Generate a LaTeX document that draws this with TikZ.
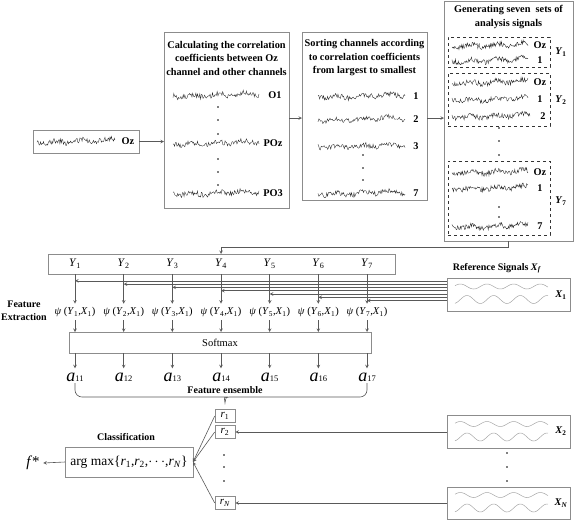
\documentclass[tikz,border=0pt]{standalone}
\usepackage{fontspec}
\setmainfont{Liberation Serif}
\usetikzlibrary{positioning}
\newcommand{\vY}[1]{\textit{Y}\textsubscript{#1}}
\newcommand{\vX}[1]{\textit{X}\textsubscript{#1}}
\newcommand{\rsub}[1]{\textit{r}\textsubscript{#1}}
\newcommand{\acoef}[1]{{\fontsize{18}{20}\selectfont\textit{a}}{\fontsize{8.5}{10}\selectfont #1}}
\newcommand{\eeg}[3]{\draw[sig] plot[domain=0:#3,samples=110] ({#1+\x},{#2+1.4*sin(14*\x)+1.1*sin(3*\x+40)+2.6*rand});}
\newcommand{\refwaves}[1]{%
	\begin{scope}[shift={(#1.west)}]
	\draw[wav] plot[domain=8:101,samples=80] (\x,{-8+2.5*cos(13.5*\x)});
	\draw[wav] plot[domain=8:101,samples=80] (\x,{5+4*sin(13.5*\x)});
	\end{scope}}
\tikzset{
	box/.style={draw=black!45, line width=0.8pt, inner sep=0pt, outer sep=0pt},
	dbox/.style={draw=black!80, dashed, line width=0.5pt, inner sep=0pt},
	rb/.style={draw=black!45, line width=0.6pt, minimum width=20, minimum height=13, inner sep=0pt, font=\fontsize{11}{12}\selectfont},
	ttl/.style={font=\bfseries\fontsize{10.3}{13.5}\selectfont, align=center},
	chn/.style={font=\bfseries\fontsize{10.3}{12}\selectfont, inner sep=0pt},
	bold/.style={font=\bfseries\fontsize{10}{13}\selectfont, align=center},
	sig/.style={black!85, line width=0.35pt},
	wav/.style={black!35, line width=0.5pt},
	wire/.style={black!65, line width=0.6pt},
	arr/.style={wire, -stealth},
}
\begin{document}
\begin{tikzpicture}[x=1pt,y=-1pt,font=\fontsize{10.5}{12}\selectfont]
	\useasboundingbox (0,0) rectangle (575,520);
	\pgfmathsetseed{7}

	\node[box, minimum width=106, minimum height=23] (oz) at (86,141.5) {};
	\eeg{37}{141}{78}
	\node[chn] (ozl) at (128,141) {Oz};

	\node[box, minimum width=125, minimum height=176] (corr) at (226.5,120) {};
	\node[ttl] (corrt) at (226.5,58) {Calculating the correlation\\coefficients between Oz\\channel and other channels};
	\eeg{173}{95}{86} \eeg{173}{143}{86} \eeg{173}{193}{86}
	\node[chn] (o1) at (275,95) {O1};
	\node[chn] (poz) at (273,143) {POz};
	\node[chn] (po3) at (273,193) {PO3};
	\foreach \d in {107,120,134,159,172,185} \fill (218,\d) circle (0.8);

	\node[box, minimum width=125, minimum height=168] (sort) at (364.5,116) {};
	\node[ttl] (sortt) at (364.5,58) {Sorting channels according\\to correlation coefficients\\from largest to smallest};
	\eeg{318}{96}{87} \eeg{318}{119}{87} \eeg{318}{146}{87} \eeg{318}{193}{87}
	\node[chn] (s1) at (416,96) {1};
	\node[chn] (s2) at (416,119) {2};
	\node[chn] (s3) at (416,146) {3};
	\node[chn] (s7) at (416,193) {7};
	\foreach \d in {155,168,180} \fill (363,\d) circle (0.8);

	\node[box, minimum width=129, minimum height=240] (gen) at (508.5,121) {};
	\node[ttl] (gent) at (508.5,17) {Generating seven\ \ sets of\\analysis signals};
	\node[dbox, minimum width=102, minimum height=30] (g1) at (499,52) {};
	\node[dbox, minimum width=102, minimum height=53] (g2) at (499,99.5) {};
	\node[dbox, minimum width=102, minimum height=74] (g7) at (499,198) {};
	\eeg{452}{45}{76} \eeg{452}{60}{76}
	\eeg{452}{82}{76} \eeg{452}{99}{76} \eeg{452}{116}{78}
	\eeg{452}{172}{76} \eeg{452}{188}{76} \eeg{452}{226}{76}
	\node[chn] (g1a) at (540,45) {Oz};
	\node[chn] (g1b) at (540,60) {1};
	\node[chn] (g2a) at (540,82) {Oz};
	\node[chn] (g2b) at (540,99) {1};
	\node[chn] (g2c) at (543,116) {2};
	\node[chn] (g7a) at (540,172) {Oz};
	\node[chn] (g7b) at (540,188) {1};
	\node[chn] (g7c) at (540,226) {7};
	\node[chn] (g1l) at (561,52) {\vY{1}};
	\node[chn] (g2l) at (561,100) {\vY{2}};
	\node[chn] (g7l) at (561,201) {\vY{7}};
	\foreach \d in {128,141,155,207,217} \fill (499,\d) circle (0.8);

	\draw[arr] (oz.east) -- (oz.east -| corr.west);
	\draw[arr] ([yshift=2pt]corr.east) -- ([yshift=2pt]corr.east -| sort.west);
	\draw[arr] ([yshift=-2pt]sort.east) -- ([yshift=-2pt]sort.east -| gen.west);

	\node[box, minimum width=347, minimum height=20] (yrow) at (221.5,264) {};
	\node[box, minimum width=302, minimum height=21] (soft) at (220,342.5) {Softmax};
	\node[box, minimum width=123, minimum height=33] (x1) at (508.5,294.5) {};
	\node[box, minimum width=123, minimum height=33] (x2) at (508.5,432) {};
	\node[box, minimum width=123, minimum height=32] (xn) at (508.5,503) {};
	\refwaves{x1} \refwaves{x2} \refwaves{xn}
	\node[chn] (x1l) at (561,295) {\vX{1}};
	\node[chn] (x2l) at (561,431) {\vX{2}};
	\node[chn] (xnl) at (561,503) {\vX{\textit{N}}};
	\node[bold] (reft) at (497,268) {Reference Signals \textit{X}\textsubscript{\textit{f}}};
	\node[bold] (fext) at (24,311) {Feature\\Extraction};
	\foreach \d in {453,467,481} \fill (507,\d) circle (0.8);

	\foreach \i in {1,...,7}{
		\pgfmathsetmacro{\cx}{75+48.67*(\i-1)}
		\pgfmathsetmacro{\wy}{277.5+3.3*\i}
		\node[font=\fontsize{11.5}{12}\selectfont] (y\i) at (\cx,264) {\vY{\i}};
		\node (p\i) at (\cx,312) {\textit{ψ} (\vY{\i},\vX{1})};
		\node[anchor=base, inner sep=0pt] (a\i) at (\cx,381) {\acoef{1\i}};
		\coordinate (w\i) at (0,\wy);
		\draw[arr] (y\i |- yrow.south) -- (p\i.north);
		\draw[arr] (x1.west |- w\i) -- (y\i |- w\i);
		\draw[arr] (p\i.south) -- (p\i.south |- soft.north);
		\draw[arr] (p\i |- soft.south) -- ([yshift=4pt]a\i.north);
	}
	\draw[arr] (gen.south) -- ++(0,6) -| (y4 |- yrow.north);

	\node[bold] (ens) at (225,390) {Feature ensemble};
	\coordinate (bl) at (75,383);
	\coordinate (br) at (367,383);
	\coordinate (bt) at (225,403);
	\draw[wire, rounded corners=7pt] (bl) |- (221,397) [sharp corners] .. controls (224,397) .. (bt) .. controls (226,397) .. (229,397) [rounded corners=7pt] -| (br);

	\node[rb] (r1) at (225,416) {\rsub{1}};
	\node[rb] (r2) at (225,432) {\rsub{2}};
	\node[rb] (rn) at (225,503) {\rsub{\textit{N}}};
	\foreach \d in {455,467,481} \fill (224,\d) circle (0.8);
	\node[box, minimum width=128, minimum height=30] (amax) at (129,462) {\fontsize{13.5}{15}\selectfont arg max\{\rsub{1},\rsub{2},$\cdots$,\rsub{\textit{N}}\}};
	\node[bold] (cls) at (126,437) {Classification};
	\node (fs) at (33,463) {\fontsize{15}{17}\selectfont\textit{f}*};
	\draw[arr] (amax.west) -- (fs.east);
	\foreach \r in {r1,r2,rn} \draw[arr] (\r.west) -- (amax.east);
	\draw[arr] (x2.west) -- (x2.west -| r2.east);
	\draw[arr] (xn.west) -- (xn.west -| rn.east);
\end{tikzpicture}
\end{document}
